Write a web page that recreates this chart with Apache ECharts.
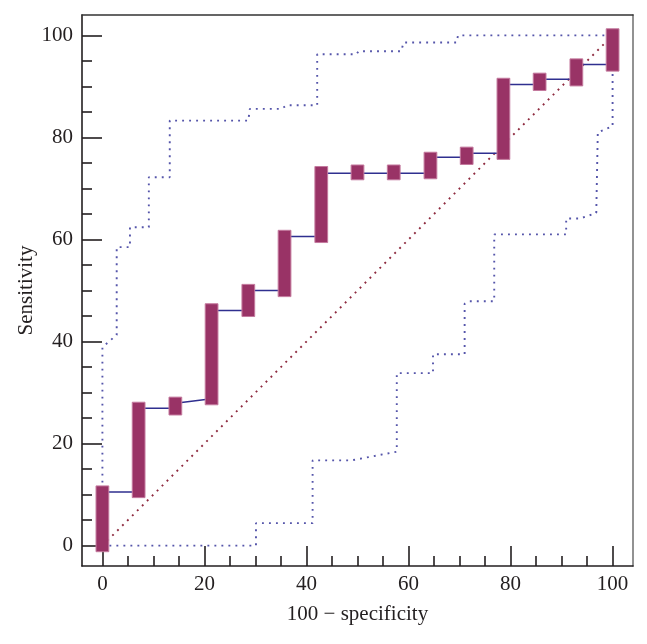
<!DOCTYPE html>
<html>
<head>
<meta charset="utf-8">
<script src="https://cdn.jsdelivr.net/npm/echarts@6/dist/echarts.min.js"></script>
<style>html,body{margin:0;padding:0;background:#fff}#c{width:647px;height:644px}</style>
</head>
<body>
<div id="c"></div>
<script>
// ROC step curve vertices
const rocX = [0,0,7.1,7.1,14.3,14.3,21.4,21.4,28.6,28.6,35.7,35.7,42.9,42.9,50,57.1,64.3,64.3,71.4,71.4,78.6,78.6,85.7,85.7,92.9,92.9,100,100];
const rocY = [0,10.5,10.5,26.9,26.9,27.9,28.8,46.1,46.1,50.0,50.0,60.6,60.6,73.0,73.0,73.0,73.0,76.1,76.1,76.9,76.9,90.4,90.4,91.4,91.4,94.3,94.3,100];
// confidence bars at each criterion
const barX    = [0,7.1,14.3,21.4,28.6,35.7,42.9,50,57.1,64.3,71.4,78.6,85.7,92.9,100];
const barLow  = [-1.2,9.4,25.6,27.6,44.9,48.8,59.4,71.7,71.7,71.9,74.7,75.7,89.2,90.1,93.0];
const barHigh = [11.7,28.1,29.1,47.4,51.2,61.8,74.3,74.6,74.6,77.1,78.1,91.6,92.6,95.4,101.3];
// upper 95% CI bound
const upX = [0,0,2.8,2.8,5.4,5.4,9.1,9.1,13.2,13.2,28.6,28.9,35.1,36.1,42.1,42.1,49.8,50.2,58.6,59.0,69.4,69.7,100];
const upY = [0,38.9,41.3,58.5,58.5,62.4,62.4,72.2,72.2,83.3,83.3,85.6,85.6,86.3,86.3,96.3,96.3,96.9,96.9,98.6,98.6,100,100];
// lower 95% CI bound
const lowX = [0,30.1,30.1,41.2,41.2,48.8,57.7,57.7,64.8,64.8,71.0,71.0,72.0,76.8,76.8,90.9,90.9,93.6,96.8,97.1,97.1,100,100];
const lowY = [0,0,4.4,4.4,16.7,16.7,18.4,33.8,33.8,37.5,37.5,47.4,47.9,47.9,61.0,61.0,64.1,64.1,65.2,65.2,81.0,82.2,100];
// reference diagonal
const diagX = [0,100];
const diagY = [0,100];
// tick labels
const majorTicks = [0,20,40,60,80,100];
const minorTicks = [5,10,15,25,30,35,45,50,55,65,70,75,85,90,95];
const xName = '100 − specificity';
const yName = 'Sensitivity';

const zip = (a,b) => a.map((v,i)=>[v,b[i]]);
const FONT = 'Liberation Serif';
const TXT = '#231f20';

function mainAxis(isX){
  return {
    type:'value', min:-4, max:104, position: isX ? 'bottom' : 'left',
    axisLine:{show:true, onZero:false, lineStyle:{color:TXT, width:1.6}},
    axisTick:{show:true, inside:true, length:20, customValues:majorTicks, lineStyle:{color:TXT, width:1.6}},
    axisLabel:{show:true, customValues:majorTicks, fontFamily:FONT, fontSize:21, color:TXT, margin: isX ? 8 : 9},
    splitLine:{show:false},
    name: isX ? xName : yName, nameLocation:'middle', nameGap: isX ? 38 : 45,
    nameMoveOverlap:false,
    nameTextStyle:{fontFamily:FONT, fontSize:21, color:TXT}
  };
}
function minorAxis(isX){
  return {
    type:'value', min:-4, max:104, position: isX ? 'bottom' : 'left',
    axisLine:{show:false, onZero:false},
    axisTick:{show:true, inside:true, length:10, customValues:minorTicks, lineStyle:{color:TXT, width:1.6}},
    axisLabel:{show:false}, splitLine:{show:false}
  };
}
function frameAxis(isX){
  return {
    type:'value', min:-4, max:104, position: isX ? 'top' : 'right',
    axisLine:{show:true, onZero:false, lineStyle:{color: isX ? '#333' : '#777', width:1.6}},
    axisTick:{show:false}, axisLabel:{show:false}, splitLine:{show:false}
  };
}

const chart = echarts.init(document.getElementById('c'), null, {renderer:'canvas'});
chart.setOption({
  animation:false,
  backgroundColor:'#fff',
  grid:{left:82, right:14, top:15, bottom:78, containLabel:false},
  xAxis:[mainAxis(true), minorAxis(true), frameAxis(true)],
  yAxis:[mainAxis(false), minorAxis(false), frameAxis(false)],
  series:[
    {type:'line', data:zip(diagX,diagY), symbol:'none', z:1,
     lineStyle:{color:'#8e2a3f', width:1.9, type:[1.9,5.1]}},
    {type:'line', data:zip(upX,upY), symbol:'none', z:1,
     lineStyle:{color:'#5555aa', width:1.9, type:[1.9,5.1]}},
    {type:'line', data:zip(lowX,lowY), symbol:'none', z:1,
     lineStyle:{color:'#5555aa', width:1.9, type:[1.9,5.1]}},
    {type:'line', data:zip(rocX,rocY), symbol:'none', z:2,
     lineStyle:{color:'#2f2f8f', width:1.5}},
    {type:'custom', z:3,
     data: barX.map((x,i)=>[x, barLow[i], barHigh[i]]),
     renderItem:(params, api)=>{
       const x = api.value(0), lo = api.value(1), hi = api.value(2);
       const p1 = api.coord([x, hi]);
       const p2 = api.coord([x, lo]);
       const w = api.size([2.5, 0])[0];
       return {type:'rect',
         shape:{x:p1[0]-w/2, y:p1[1], width:w, height:p2[1]-p1[1]},
         style:{fill:'#993366', stroke:'#c47a9e', lineWidth:1}};
     }}
  ]
});
</script>
</body>
</html>
